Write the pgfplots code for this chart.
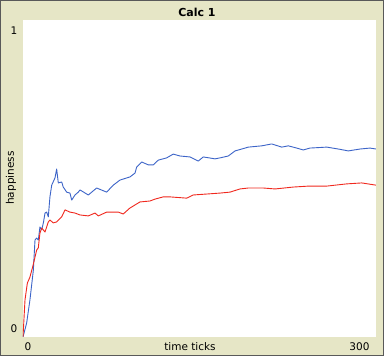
\documentclass[border=0pt]{standalone}
\usepackage{pgfplots}
\pgfplotsset{compat=1.18}
\usepackage{fontspec}
\setmainfont{DejaVu Sans}
\definecolor{bgbeige}{RGB}{230,230,198}
\definecolor{nlblue}{RGB}{60,100,200}
\definecolor{nlred}{RGB}{240,40,30}
\begin{document}
\begin{tikzpicture}[x=1pt,y=1pt]
\path[use as bounding box] (0,0) rectangle (384,356);
\fill[bgbeige] (0,0) rectangle (384,356);
\draw[gray!70!black,line width=1.2pt] (0.6,0.6) rectangle (383.4,355.4);
\begin{axis}[
  at={(23pt,19pt)}, anchor=origin,
  scale only axis, width=353pt, height=317pt,
  xmin=0, xmax=300, ymin=0, ymax=1,
  axis lines=box, axis line style={draw=none},
  xtick=\empty, ytick=\empty,
  axis background/.style={fill=white},
  every axis plot/.append style={line width=0.9pt, mark=none, line join=round},
]
\addplot[nlblue] coordinates {
(0,0) (3.1,0.044) (5.9,0.117) (8.8,0.211) (10.2,0.306) (11.6,0.312) (13.0,0.306)
(14.4,0.347) (15.9,0.338) (17.3,0.360) (18.7,0.391) (20.1,0.394) (21.5,0.379)
(22.9,0.442) (24.4,0.479) (27.2,0.502) (28.6,0.530) (30.0,0.486) (32.9,0.489)
(34.2,0.473) (37.1,0.457) (39.9,0.454) (41.4,0.432) (44.2,0.448) (47.0,0.457)
(48.4,0.464) (55.5,0.448) (62.6,0.470) (71.1,0.457) (76.7,0.479) (82.4,0.495)
(90.9,0.505) (95.2,0.517) (96.6,0.536) (100.9,0.552) (106.5,0.543) (110.7,0.543)
(115.0,0.558) (122.1,0.565) (127.7,0.577) (133.4,0.571) (141.9,0.568) (149.0,0.555)
(153.2,0.568) (163.2,0.562) (167.4,0.565) (174.5,0.571) (180.2,0.587) (185.9,0.593)
(191.5,0.599) (202.9,0.603) (211.4,0.609) (219.9,0.599) (225.5,0.603) (232.6,0.596)
(238.2,0.590) (243.9,0.596) (258.1,0.599) (268.0,0.593) (276.5,0.587) (286.4,0.593)
(294.9,0.596) (300,0.593)
};
\addplot[nlred] coordinates {
(0,0) (1.7,0.117) (3.7,0.170) (5.9,0.189) (8.2,0.221) (10.2,0.252) (11.6,0.274)
(13.0,0.281) (14.4,0.328) (15.9,0.344) (18.7,0.331) (21.5,0.363) (22.9,0.369)
(25.7,0.360) (28.6,0.363) (32.9,0.379) (35.7,0.401) (39.9,0.394) (44.2,0.391)
(48.4,0.385) (55.5,0.382) (61.2,0.391) (64.0,0.382) (71.1,0.394) (81.0,0.394)
(85.2,0.388) (90.9,0.407) (92.3,0.410) (99.4,0.426) (107.9,0.429) (112.2,0.435)
(119.2,0.442) (124.9,0.442) (139.1,0.438) (144.7,0.448) (156.1,0.451) (167.4,0.454)
(175.9,0.457) (184.4,0.467) (191.5,0.470) (204.2,0.470) (214.2,0.467) (229.7,0.473)
(242.5,0.476) (258.1,0.476) (275.1,0.483) (287.9,0.486) (300,0.479)
};
\end{axis}
\node[font=\fontsize{11}{13}\selectfont\bfseries] at (197,344) {Calc 1};
\node[font=\fontsize{10.5}{12}\selectfont] at (14,325) {1};
\node[font=\fontsize{10.5}{12}\selectfont] at (14,27) {0};
\node[font=\fontsize{10.5}{12}\selectfont,anchor=west] at (21,9.5) {0};
\node[font=\fontsize{10.5}{12}\selectfont,anchor=east] at (373,9.5) {300};
\node[font=\fontsize{10.5}{12}\selectfont] at (190,9.5) {time ticks};
\node[font=\fontsize{10.5}{12}\selectfont,rotate=90] at (11,178) {happiness};
\end{tikzpicture}
\end{document}
